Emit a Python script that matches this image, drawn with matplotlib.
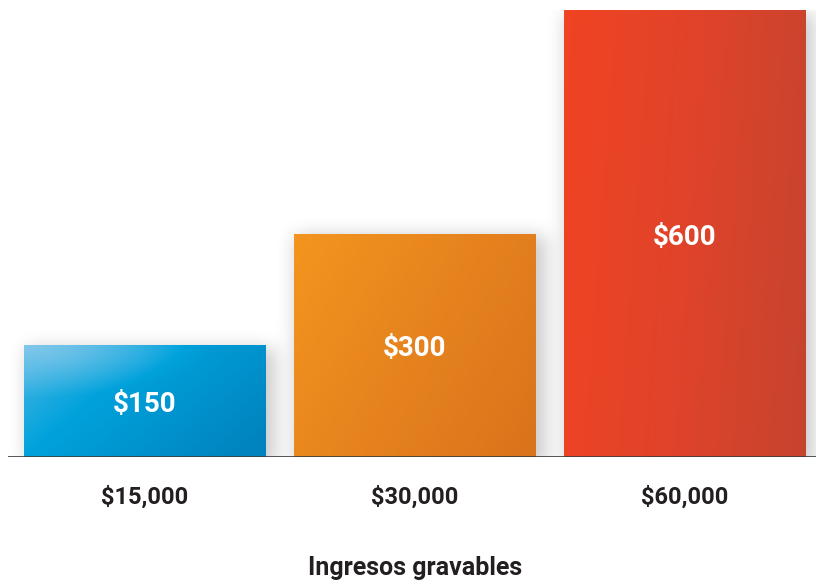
import numpy as np
import matplotlib.pyplot as plt
from matplotlib.colors import LinearSegmentedColormap
from matplotlib.patches import Rectangle

# Datos
categorias = ["$15,000", "$30,000", "$60,000"]
impuestos = [150, 300, 600]
etiquetas = ["$150", "$300", "$600"]
titulo = "Ingresos gravables"

# colores del degradado (arriba-izquierda -> abajo-derecha)
degradados = [
    ["#80c7ea", "#00a2dc", "#0083be"],
    ["#f4951f", "#e6831e", "#d9731c"],
    ["#f04423", "#e0432a", "#c6432f"],
]

plt.rcParams["font.family"] = ["Roboto", "DejaVu Sans"]

fig = plt.figure(figsize=(8.16, 5.81), dpi=100)
W, H = 816, 581
ax = fig.add_axes([8 / W, 1 - 457 / H, 808 / W, 447 / H])
xlim = (-(145 - 8) / 270, (816 - 145) / 270)
ylim = (0, 600)
ax.axis("off")

ancho = 242 / 270
x = np.arange(len(impuestos))

# sombra difusa: mascara de las barras desplazada y suavizada
ny, nx = 300, 420
ys = np.linspace(ylim[1] + 60, ylim[0] - 60, ny)
xs = np.linspace(xlim[0], xlim[1] + 0.1, nx)
XX, YY = np.meshgrid(xs, ys)
mask = np.zeros((ny, nx))
for i, v in enumerate(impuestos):
    mask[(XX > x[i] - ancho / 2 + 0.01) & (XX < x[i] + ancho / 2 + 0.03)
         & (YY < v - 3) & (YY > -14)] = 1
k = np.exp(-0.5 * (np.arange(-12, 13) / 5.0) ** 2)
k /= k.sum()
mask = np.apply_along_axis(lambda r: np.convolve(r, k, mode="same"), 1, mask)
mask = np.apply_along_axis(lambda c: np.convolve(c, k, mode="same"), 0, mask)
sombra = np.zeros((ny, nx, 4))
sombra[..., 3] = 0.22 * mask
ax.imshow(sombra, extent=(xs[0], xs[-1], ys[-1], ys[0]), aspect="auto",
          interpolation="bilinear", zorder=1)

# barras con degradado
yy, xx = np.mgrid[0:1:200j, 0:1:200j]
mezcla = [(0.55, 0.3), (0.65, 0.35), (0.88, 0.12)]
for i, v in enumerate(impuestos):
    cmap = LinearSegmentedColormap.from_list("g%d" % i, degradados[i])
    a, b = mezcla[i]
    t = np.clip(a * xx + b * yy + (0.2 if i == 0 else 0), 0, 1)
    if i == 0:
        # brillo suave en la esquina superior izquierda
        r = np.sqrt((xx * 1.1) ** 2 + (yy * 1.8) ** 2)
        w = np.clip(1 - r / 0.85, 0, 1) ** 1.1
        t = t * (1 - w)
    img = ax.imshow(t, cmap=cmap, vmin=0, vmax=1, aspect="auto", origin="upper",
                    extent=(x[i] - ancho / 2, x[i] + ancho / 2, 0, v),
                    interpolation="bilinear", zorder=2)
    rect = Rectangle((x[i] - ancho / 2, 0), ancho, v, transform=ax.transData)
    img.set_clip_path(rect)
    ax.text(x[i], v / 2 - 5, etiquetas[i].replace("$", r"\$"), color="white",
            fontsize=20, fontweight="bold", ha="center", va="center", zorder=4)

ax.axhline(0, color="#3a3a3a", lw=1.2, zorder=3)
ax.set_xlim(*xlim)
ax.set_ylim(*ylim)

for i, c in enumerate(categorias):
    fig.text((145 + 270 * i) / W, 1 - 497 / H, c.replace("$", r"\$"),
             color="#231f20", fontsize=17, fontweight="bold", ha="center", va="center")
fig.text(415 / W, 1 - 568 / H, titulo, color="#231f20", fontsize=18,
         fontweight="bold", ha="center", va="center")

fig.savefig("out.png", dpi=100)
